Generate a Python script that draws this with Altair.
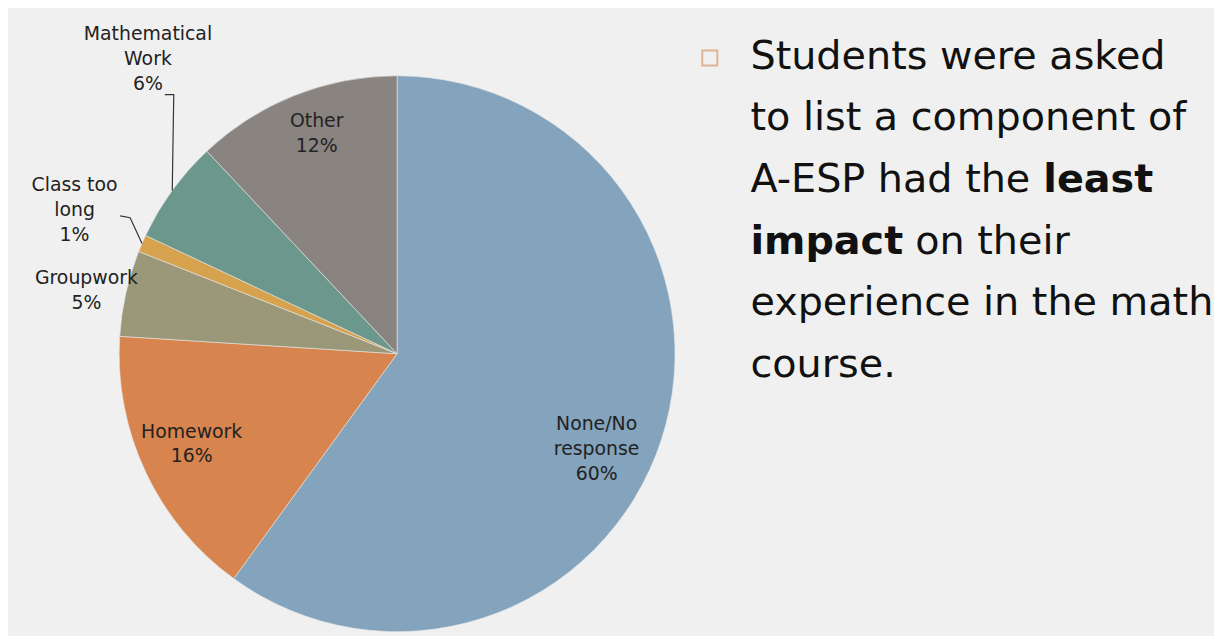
import math
import altair as alt
import pandas as pd

# ---------------- data ----------------
categories = ["None/No response", "Homework", "Groupwork", "Class too long", "Mathematical Work", "Other"]
values = [60, 16, 5, 1, 6, 12]
label_names = [["None/No", "response"], ["Homework"], ["Groupwork"], ["Class too", "long"], ["Mathematical", "Work"], ["Other"]]
colors = ["#84a3bc", "#d7844e", "#9a9878", "#d7a24e", "#6c978c", "#8a8481"]

text_lines = [
    ("Students were asked", ""),
    ("to list a component of", ""),
    ("A-ESP had the", "least"),
    ("", "impact"),
    ("experience in the math", ""),
    ("course.", ""),
]

# ---------------- layout (style) ----------------
W, H = 1206, 621
CX, CY, R = 392, 346, 280
LH = 25
# label block centres relative to pie centre (px)
label_offsets = [(201, 96), (-207, 91), (-313, -64), (-325, -145), (-251, -297), (-81, -222)]
# leader lines: (start dx, dy), (elbow dx, dy) relative to centre; end = slice edge at mid angle
leaders = {3: [(-279, -139), (-269, -137)], 4: [(-234, -261), (-225, -261)]}
FONT = "DejaVu Sans"

total = sum(values)
rows, lab_rows, line_rows = [], [], []
cum = 0
for i, (c, v) in enumerate(zip(categories, values)):
    mid = (cum + v / 2) / total * 2 * math.pi
    cum += v
    rows.append({"cat": c, "value": v, "idx": i})
    dx, dy = label_offsets[i]
    lines = label_names[i] + [f"{v}%"]
    lab_rows.append({"cat": c, "x": CX + dx, "y": CY + dy - (len(lines) - 1) / 2 * LH,
                     "text": "\n".join(lines)})
    if i in leaders:
        pts = [(CX + a, CY + b) for a, b in leaders[i]]
        pts.append((CX + R * math.sin(mid), CY - R * math.cos(mid)))
        for s, (px, py) in enumerate(pts):
            line_rows.append({"cat": c, "seq": s, "x": px, "y": py})

df = pd.DataFrame(rows)
dlab = pd.DataFrame(lab_rows)
dline = pd.DataFrame(line_rows)

xs = alt.Scale(domain=[0, W], nice=False, zero=False)
ys = alt.Scale(domain=[0, H], nice=False, zero=False, reverse=True)

pie = alt.Chart(df).mark_arc(outerRadius=R, stroke="#e8e8e8", strokeWidth=0.6).encode(
    theta=alt.Theta("value:Q", stack=True),
    color=alt.Color("cat:N", scale=alt.Scale(domain=categories, range=colors), legend=None),
    order=alt.Order("idx:Q"),
    x=alt.value(CX), y=alt.value(CY),
)

labels = alt.Chart(dlab).mark_text(fontSize=19, font=FONT, color="#222222", lineBreak="\n",
                                   lineHeight=LH, baseline="middle", align="center").encode(
    x=alt.X("x:Q", scale=xs, axis=None),
    y=alt.Y("y:Q", scale=ys, axis=None),
    text="text:N",
)

leader = alt.Chart(dline).mark_line(color="#333333", strokeWidth=1.2).encode(
    x=alt.X("x:Q", scale=xs, axis=None),
    y=alt.Y("y:Q", scale=ys, axis=None),
    detail="cat:N",
    order="seq:Q",
)

# right-hand text
TX, TY0, DY, FS = 748, 47, 62, 40
norm_rows, bold_rows = [], []
for k, (nt, bt) in enumerate(text_lines):
    y = TY0 + k * DY
    if nt and not bt:
        norm_rows.append({"x": TX, "y": y, "t": nt})
    elif nt and bt:
        norm_rows.append({"x": TX, "y": y, "t": nt})
        bold_rows.append({"x": TX + 295, "y": y, "t": bt})
    else:
        bold_rows.append({"x": TX, "y": y, "t": bt})
        norm_rows.append({"x": TX + 166, "y": y, "t": "on their"})

tn = alt.Chart(pd.DataFrame(norm_rows)).mark_text(fontSize=FS, font=FONT, color="#111111",
                                                   align="left", baseline="middle").encode(
    x=alt.X("x:Q", scale=xs, axis=None), y=alt.Y("y:Q", scale=ys, axis=None), text="t:N")
tb = alt.Chart(pd.DataFrame(bold_rows)).mark_text(fontSize=FS, font=FONT, fontWeight="bold",
                                                  color="#111111", align="left", baseline="middle").encode(
    x=alt.X("x:Q", scale=xs, axis=None), y=alt.Y("y:Q", scale=ys, axis=None), text="t:N")
bullet = alt.Chart(pd.DataFrame({"x": [707], "y": [TY0 + 1]})).mark_point(
    shape="square", size=230, filled=False, color="#dc9a70", strokeWidth=2).encode(
    x=alt.X("x:Q", scale=xs, axis=None), y=alt.Y("y:Q", scale=ys, axis=None))

chart = alt.layer(pie, leader, labels, bullet, tn, tb).properties(
    width=W, height=H, padding=0, background="#eff0ef"
).configure_view(stroke=None)

chart.save("out.html", embed_options={"renderer": "svg", "actions": False})
